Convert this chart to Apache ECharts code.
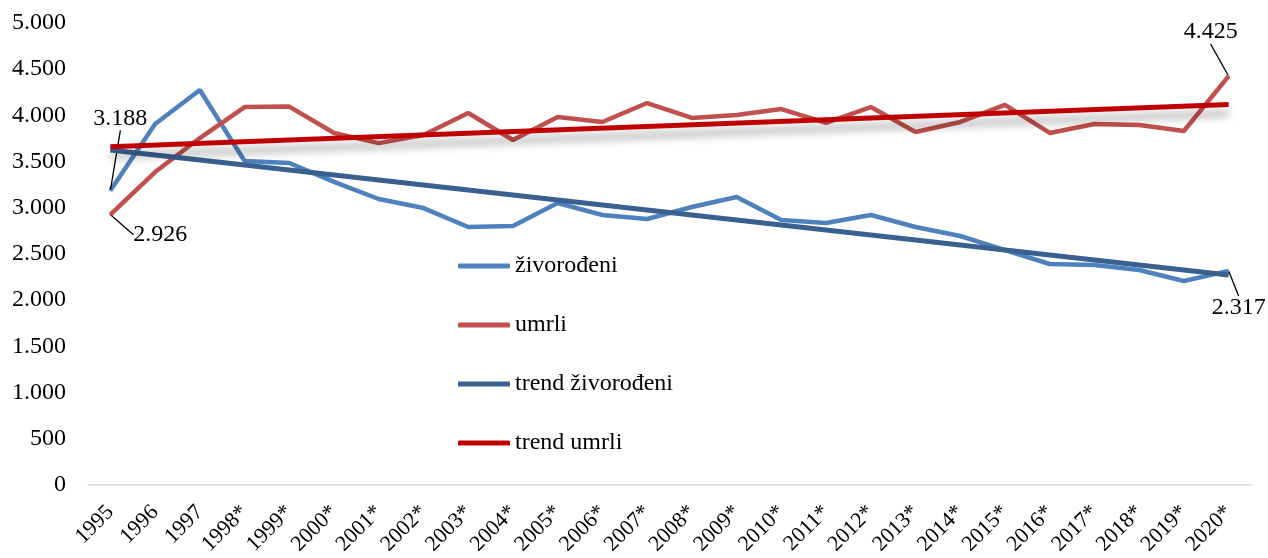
<!DOCTYPE html>
<html>
<head>
<meta charset="utf-8">
<script src="https://cdn.jsdelivr.net/npm/echarts@6/dist/echarts.min.js"></script>
<style>
html,body{margin:0;padding:0;background:#fff;}
#chart{width:1268px;height:558px;}
</style>
</head>
<body>
<div id="chart"></div>
<script>
const years = ['1995','1996','1997','1998*','1999*','2000*','2001*','2002*','2003*','2004*','2005*','2006*','2007*','2008*','2009*','2010*','2011*','2012*','2013*','2014*','2015*','2016*','2017*','2018*','2019*','2020*'];
const zivorodeni = [3188,3907,4275,3506,3485,3280,3095,2997,2792,2803,3052,2922,2879,3009,3117,2868,2836,2922,2792,2695,2543,2392,2381,2327,2208,2317];
const umrli = [2926,3387,3755,4090,4095,3810,3700,3788,4026,3734,3983,3929,4134,3972,4004,4069,3918,4090,3820,3929,4113,3810,3907,3896,3831,4425];
// trend lines: endpoints (straight line between them)
const trendZivorodeni = [3625,null,null,null,null,null,null,null,null,null,null,null,null,null,null,null,null,null,null,null,null,null,null,null,null,2273];
const trendUmrli = [3660,null,null,null,null,null,null,null,null,null,null,null,null,null,null,null,null,null,null,null,null,null,null,null,null,4117];
const yTicks = [0,500,1000,1500,2000,2500,3000,3500,4000,4500,5000];
const seriesNames = ['živorođeni','umrli','trend živorođeni','trend umrli'];

const FONT = 'Liberation Serif';
function fmt(v){ return String(v).replace(/\B(?=(\d{3})+(?!\d))/g,'.'); }

// label offsets (dx, dy) for labelled points, keyed by series and index
const labelOffsets = {
  0: {0:[10,-72], 25:[10,37]},
  1: {0:[50,20], 25:[-18,-44]}
};
function buildData(arr, sIdx){
  return arr.map((v,i)=>{
    if (labelOffsets[sIdx] && labelOffsets[sIdx][i]) {
      return {value:v, label:{show:true}};
    }
    return v;
  });
}
function layoutFor(sIdx){
  return function(params){
    const o = labelOffsets[sIdx] && labelOffsets[sIdx][params.dataIndex];
    if (!o) return {};
    return {dx:o[0], dy:o[1]};
  };
}

const chart = echarts.init(document.getElementById('chart'));
const labelBase = {
  show:false, position:'inside', fontFamily:FONT, fontSize:24, color:'#000',
  formatter: p => fmt(p.value)
};
chart.setOption({
  animation:false,
  backgroundColor:'#fff',
  grid:{left:88, right:17, top:23, bottom:73},
  legend:{
    orient:'vertical', left:453, top:249, itemWidth:52, itemHeight:5, itemGap:35,
    icon:'roundRect',
    textStyle:{fontFamily:FONT, fontSize:24, color:'#000'},
    data: seriesNames
  },
  xAxis:{
    type:'category', data:years, boundaryGap:true,
    axisLine:{show:true, lineStyle:{color:'#D9D9D9', width:1.5}},
    axisTick:{show:false},
    axisLabel:{rotate:45, margin:24, interval:0, fontFamily:FONT, fontSize:22, color:'#000'}
  },
  yAxis:{
    type:'value', min:yTicks[0], max:yTicks[yTicks.length-1], interval:500,
    axisLine:{show:false}, axisTick:{show:false}, splitLine:{show:false},
    axisLabel:{margin:22, fontFamily:FONT, fontSize:24, color:'#000', formatter:v=>fmt(v)}
  },
  series:[
    {name:seriesNames[0], type:'line', data:buildData(zivorodeni,0), symbol:'circle', symbolSize:2, showSymbol:true,
     itemStyle:{color:'#4F81BD'}, lineStyle:{color:'#4F81BD', width:4.5},
     label:labelBase, labelLine:{show:true, lineStyle:{color:'#000', width:1.3}}, labelLayout:layoutFor(0), z:2},
    {name:seriesNames[1], type:'line', data:buildData(umrli,1), symbol:'circle', symbolSize:2, showSymbol:true,
     itemStyle:{color:'#C0504D'}, lineStyle:{color:'#C0504D', width:4.5},
     label:labelBase, labelLine:{show:true, lineStyle:{color:'#000', width:1.3}}, labelLayout:layoutFor(1), z:2},
    {name:seriesNames[2], type:'line', data:trendZivorodeni, connectNulls:true, symbol:'none',
     itemStyle:{color:'#3A6090'}, lineStyle:{color:'#3A6090', width:5}, z:3},
    {name:seriesNames[3], type:'line', data:trendUmrli, connectNulls:true, symbol:'none',
     itemStyle:{color:'#C00000'}, lineStyle:{color:'#C00000', width:5, shadowColor:'rgba(0,0,0,0.35)', shadowBlur:8, shadowOffsetY:9}, z:3}
  ]
});
</script>
</body>
</html>
